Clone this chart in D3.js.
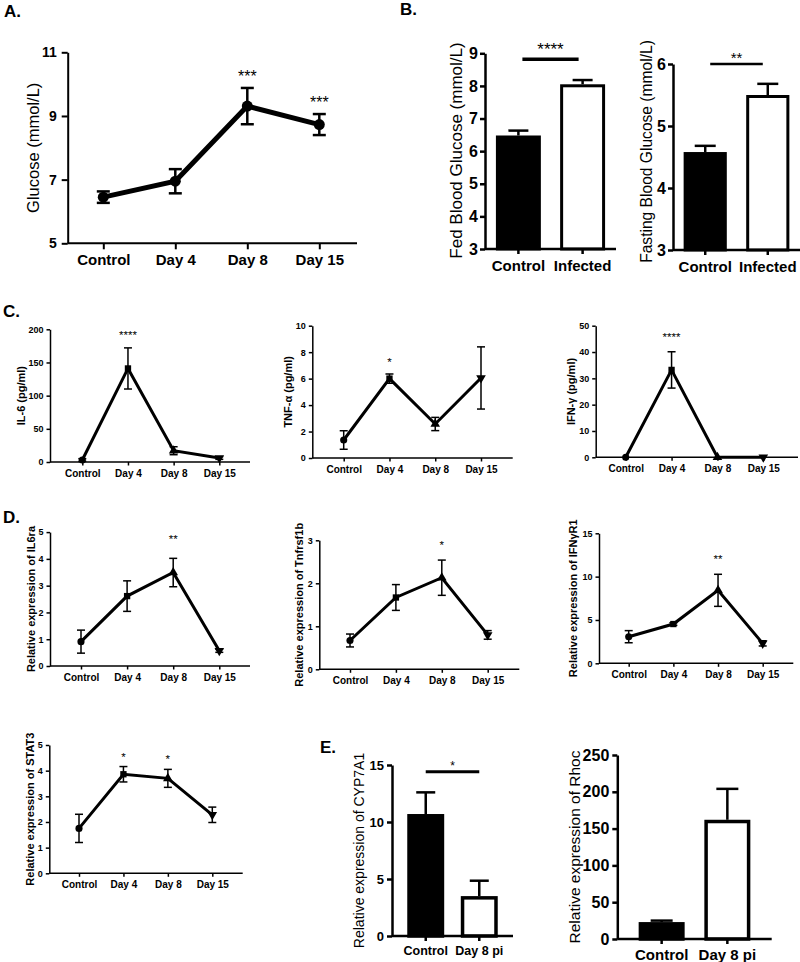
<!DOCTYPE html>
<html><head><meta charset="utf-8">
<script src="https://cdn.jsdelivr.net/npm/d3@7"></script>
<style>body{margin:0;background:#fff}svg{display:block}</style>
</head><body><svg id="c" width="800" height="962"></svg>
<script>
// ---------- DATA ----------
const timeCats = ["Control", "Day 4", "Day 8", "Day 15"];

const glucoseMean = [6.45, 6.95, 9.31, 8.73];
const glucoseErr = [0.18, 0.38, 0.57, 0.33];
const glucoseStars = ["", "", "***", "***"];
const glucoseTicks = [5, 7, 9, 11];

const groupCats = ["Control", "Infected"];
const fedMean = [6.48, 8.05];
const fedErr = [0.15, 0.13];
const fedTicks = [3, 4, 5, 6, 7, 8, 9];
const fastingMean = [4.58, 5.50];
const fastingErr = [0.10, 0.18];
const fastingTicks = [3, 4, 5, 6];

const il6Mean = [3, 141, 17, 6];
const il6Err = [2, 31, 6, 2];
const il6Stars = ["", "****", "", ""];
const il6Ticks = [0, 50, 100, 150, 200];

const tnfMean = [1.36, 6.0, 2.57, 6.05];
const tnfErr = [0.7, 0.35, 0.5, 2.35];
const tnfStars = ["", "*", "", ""];
const tnfTicks = [0, 2, 4, 6, 8, 10];

const ifnMean = [0, 33.2, 0, 0];
const ifnErr = [0, 6.9, 0, 0];
const ifnStars = ["", "****", "", ""];
const ifnTicks = [0, 10, 20, 30, 40, 50];

const il6raMean = [0.91, 2.61, 3.49, 0.57];
const il6raErr = [0.43, 0.57, 0.53, 0.06];
const il6raStars = ["", "", "**", ""];
const il6raTicks = [0, 1, 2, 3, 4, 5];

const tnfrMean = [0.67, 1.67, 2.13, 0.80];
const tnfrErr = [0.15, 0.30, 0.41, 0.10];
const tnfrStars = ["", "", "*", ""];
const tnfrTicks = [0, 1, 2, 3];

const ifngrMean = [3.07, 4.53, 8.42, 2.30];
const ifngrErr = [0.70, 0.15, 1.85, 0.30];
const ifngrStars = ["", "", "**", ""];
const ifngrTicks = [0, 5, 10, 15];

const stat3Mean = [1.75, 3.86, 3.70, 2.28];
const stat3Err = [0.55, 0.30, 0.35, 0.30];
const stat3Stars = ["", "*", "*", ""];
const stat3Ticks = [0, 1, 2, 3, 4, 5];

const eCats = ["Control", "Day 8 pi"];
const cypMean = [10.7, 3.5];
const cypErr = [1.9, 1.35];
const cypTicks = [0, 5, 10, 15];
const rhocMean = [23, 162];
const rhocErr = [2, 42];
const rhocTicks = [0, 50, 100, 150, 200, 250];

// ---------- DRAWING ----------
const F = '"Liberation Sans", Arial, Helvetica, sans-serif';
const svg = d3.select("#c");
const fmt = d3.format("d");

function letter(t, x, y) {
  svg.append("text").attr("x", x).attr("y", y).text(t)
    .attr("font-family", F).attr("font-size", 17).attr("font-weight", "bold");
}

function yLabel(o, t) {
  const ly = o.ly != null ? o.ly : (o.yb + o.yt) / 2;
  svg.append("text").attr("transform", `translate(${o.lx},${ly}) rotate(-90)`)
    .attr("text-anchor", "middle").attr("dy", "0.35em")
    .attr("font-family", F).attr("font-size", o.lfs).attr("font-weight", o.lbold ? "bold" : "normal")
    .text(t);
}

function styleAxis(sel, o, fs) {
  sel.select(".domain").attr("stroke-width", o.aw);
  sel.selectAll(".tick line").attr("stroke-width", o.aw);
  sel.selectAll(".tick text").attr("font-family", F).attr("font-size", fs).attr("font-weight", "bold").attr("fill", "#000");
}

function starText(g, x, yc, s, fs) {
  g.append("text").attr("x", x).attr("y", yc + 0.57 * fs).attr("text-anchor", "middle")
    .attr("font-family", F).attr("font-size", fs).text(s);
}

const symTypes = [d3.symbolCircle, d3.symbolSquare, d3.symbolTriangle, d3.symbolTriangle];

function linePanel(o, mean, err, stars, ticks, label) {
  const x = d3.scalePoint().domain(timeCats).range([o.px0, o.px1]);
  const y = d3.scaleLinear().domain([ticks[0], ticks[ticks.length - 1]]).range([o.yb, o.yt]);
  const g = svg.append("g");
  const ya = g.append("g").attr("transform", `translate(${o.ax},0)`)
    .call(d3.axisLeft(y).tickValues(ticks).tickFormat(fmt).tickSizeOuter(0).tickSizeInner(o.tick).tickPadding(o.tpad));
  styleAxis(ya, o, o.yfs);
  g.append("line").attr("x1", o.ax).attr("x2", o.xe).attr("y1", o.yb).attr("y2", o.yb)
    .attr("stroke", "#000").attr("stroke-width", o.aw);
  const xa = g.append("g").attr("transform", `translate(0,${o.yb})`)
    .call(d3.axisBottom(x).tickSizeOuter(0).tickSizeInner(o.tick).tickPadding(o.xpad));
  xa.select(".domain").remove();
  styleAxis(xa, o, o.xfs);
  g.append("path").datum(mean)
    .attr("d", d3.line().x((d, i) => x(timeCats[i])).y(d => y(d)))
    .attr("fill", "none").attr("stroke", "#000").attr("stroke-width", o.lw).attr("stroke-linejoin", "miter");
  mean.forEach((m, i) => {
    if (!err[i]) return;
    const cx = x(timeCats[i]);
    const y1 = y(m + err[i]), y2 = y(Math.max(ticks[0], m - err[i]));
    g.append("line").attr("x1", cx).attr("x2", cx).attr("y1", y1).attr("y2", y2).attr("stroke", "#000").attr("stroke-width", o.ew);
    [y1, y2].forEach(yy => g.append("line").attr("x1", cx - o.cap / 2).attr("x2", cx + o.cap / 2)
      .attr("y1", yy).attr("y2", yy).attr("stroke", "#000").attr("stroke-width", o.ew));
  });
  mean.forEach((m, i) => {
    const t = o.allCircle ? d3.symbolCircle : symTypes[i];
    g.append("path").attr("d", d3.symbol().type(t).size(o.msize)())
      .attr("transform", `translate(${x(timeCats[i])},${y(m)})${(!o.allCircle && i === 3) ? " rotate(180)" : ""}`)
      .attr("fill", "#000");
  });
  stars.forEach((s, i) => {
    if (!s) return;
    starText(g, x(timeCats[i]), y(mean[i] + err[i]) - o.stark, s, o.starfs);
  });
  yLabel(o, label);
}

function barPanel(o, cats, mean, err, ticks, label, stars) {
  const x = d3.scaleBand().domain(cats).range([o.ax, o.xe]).paddingInner(o.pi).paddingOuter(o.po);
  const y = d3.scaleLinear().domain([ticks[0], ticks[ticks.length - 1]]).range([o.yb, o.yt]);
  const g = svg.append("g");
  const bw = x.bandwidth();
  mean.forEach((m, i) => {
    const cx = x(cats[i]) + bw / 2;
    const y1 = y(m + err[i]);
    g.append("line").attr("x1", cx).attr("x2", cx).attr("y1", y1).attr("y2", y(m)).attr("stroke", "#000").attr("stroke-width", o.ew);
    g.append("line").attr("x1", cx - o.cap / 2).attr("x2", cx + o.cap / 2).attr("y1", y1).attr("y2", y1)
      .attr("stroke", "#000").attr("stroke-width", o.ew);
  });
  mean.forEach((m, i) => {
    g.append("rect").attr("x", x(cats[i]) + o.bs / 2).attr("y", y(m) + o.bs / 2)
      .attr("width", bw - o.bs).attr("height", o.yb - y(m) - o.bs / 2)
      .attr("fill", i === 0 ? "#000" : "#fff").attr("stroke", "#000").attr("stroke-width", o.bs);
  });
  const ya = g.append("g").attr("transform", `translate(${o.ax},0)`)
    .call(d3.axisLeft(y).tickValues(ticks).tickFormat(fmt).tickSizeOuter(0).tickSizeInner(o.tick).tickPadding(o.tpad));
  styleAxis(ya, o, o.yfs);
  g.append("line").attr("x1", o.ax).attr("x2", o.xe).attr("y1", o.yb).attr("y2", o.yb)
    .attr("stroke", "#000").attr("stroke-width", o.aw);
  const xa = g.append("g").attr("transform", `translate(0,${o.yb})`)
    .call(d3.axisBottom(x).tickSizeOuter(0).tickSizeInner(o.tick).tickPadding(o.xpad));
  xa.select(".domain").remove();
  styleAxis(xa, o, o.xfs);
  if (stars) {
    const sy = y(o.sig);
    g.append("line").attr("x1", x(cats[0]) + bw / 2 - o.sigExt).attr("x2", x(cats[1]) + bw / 2 + o.sigExt)
      .attr("y1", sy).attr("y2", sy).attr("stroke", "#000").attr("stroke-width", o.sw);
    starText(g, (x(cats[0]) + x(cats[1]) + bw) / 2, sy - o.stark, stars, o.starfs);
  }
  yLabel(o, label);
}

// ---------- PANELS ----------
letter("A.", 4, 17);
letter("B.", 400, 15);
letter("C.", 3, 317);
letter("D.", 3, 523);
letter("E.", 320, 753);

linePanel({ax: 67.7, xe: 357, yb: 243.3, yt: 52.3, px0: 103.3, px1: 319.3, aw: 2, tick: 6, tpad: 5, xpad: 5,
  yfs: 14, xfs: 15, lw: 5, ew: 2.5, cap: 13, msize: 95, allCircle: true, lx: 33, lfs: 16.5,
  starfs: 16, stark: 15.5}, glucoseMean, glucoseErr, glucoseStars, glucoseTicks, "Glucose (mmol/L)");

barPanel({ax: 485, xe: 616, yb: 249, yt: 53.3, pi: 0.3, po: 0.17, bs: 3, aw: 2.5, tick: 5, tpad: 2, xpad: 6,
  yfs: 16, xfs: 15, ew: 2.5, cap: 20, lx: 456, ly: 150.5, lfs: 17, sig: 8.82, sigExt: -4, sw: 3.5,
  starfs: 17, stark: 14}, groupCats, fedMean, fedErr, fedTicks, "Fed Blood Glucose (mmol/L)", "****");

barPanel({ax: 673, xe: 800, yb: 250, yt: 64, pi: 0.31, po: 0.17, bs: 3, aw: 2.5, tick: 5, tpad: 2, xpad: 6,
  yfs: 16, xfs: 15, ew: 2.5, cap: 21, lx: 646.7, ly: 151.5, lfs: 15.6, sig: 6.0, sigExt: -5, sw: 2.5,
  starfs: 15, stark: 10}, groupCats, fastingMean, fastingErr, fastingTicks, "Fasting Blood Glucose (mmol/L)", "**");

const small = {aw: 1.5, tick: 3.5, tpad: 3, xpad: 4, yfs: 9, xfs: 10, lw: 3, ew: 1.5, cap: 8, msize: 40,
  lfs: 11, lbold: true, starfs: 11.5};

linePanel({...small, ax: 50, xe: 250, yb: 462, yt: 329.3, px0: 82.3, px1: 219.3, lx: 21, stark: 15.6},
  il6Mean, il6Err, il6Stars, il6Ticks, "IL-6 (pg/ml)");
linePanel({...small, ax: 312.3, xe: 512.7, yb: 458, yt: 325.7, px0: 343.7, px1: 481, lx: 288, stark: 15},
  tnfMean, tnfErr, tnfStars, tnfTicks, "TNF-\u03b1 (pg/ml)");
linePanel({...small, ax: 595.7, xe: 798, yb: 457.3, yt: 325.7, px0: 625.7, px1: 763.3, lx: 570.7, stark: 17.7},
  ifnMean, ifnErr, ifnStars, ifnTicks, "IFN-\u03b3 (pg/ml)");

linePanel({...small, ax: 50, xe: 250, yb: 666, yt: 532.1, px0: 81, px1: 219.3, lx: 31, stark: 22},
  il6raMean, il6raErr, il6raStars, il6raTicks, "Relative expression of IL6ra");
linePanel({...small, ax: 319.3, xe: 519.3, yb: 669.3, yt: 540.3, px0: 350, px1: 487.7, lx: 299.3, stark: 18},
  tnfrMean, tnfrErr, tnfrStars, tnfrTicks, "Relative expression of Tnfrsf1b");
linePanel({...small, ax: 599, xe: 793.3, yb: 663.3, yt: 533.3, px0: 628.7, px1: 762.7, lx: 573.3, stark: 18},
  ifngrMean, ifngrErr, ifngrStars, ifngrTicks, "Relative expression of IFN\u03b3R1");
linePanel({...small, ax: 49.3, xe: 242.7, yb: 873.3, yt: 745, px0: 79, px1: 212.3, lx: 30, stark: 12.5},
  stat3Mean, stat3Err, stat3Stars, stat3Ticks, "Relative expression of STAT3");

barPanel({ax: 392, xe: 513, yb: 936, yt: 765, pi: 0.31, po: 0.285, bs: 3.5, aw: 2.5, tick: 5, tpad: 3, xpad: 5,
  yfs: 13, xfs: 12.5, ew: 2.5, cap: 19, lx: 359, lfs: 14, sig: 14.4, sigExt: 0, sw: 3,
  starfs: 12, stark: 9}, eCats, cypMean, cypErr, cypTicks, "Relative expression of CYP7A1", "*");

barPanel({ax: 617.3, xe: 771.7, yb: 939, yt: 755, pi: 0.3, po: 0.325, bs: 3.5, aw: 2.5, tick: 5, tpad: 3, xpad: 5,
  yfs: 16, xfs: 15, ew: 2.5, cap: 22, lx: 575, lfs: 15.5}, eCats, rhocMean, rhocErr, rhocTicks, "Relative expression of Rhoc", null);
</script>
</body></html>
